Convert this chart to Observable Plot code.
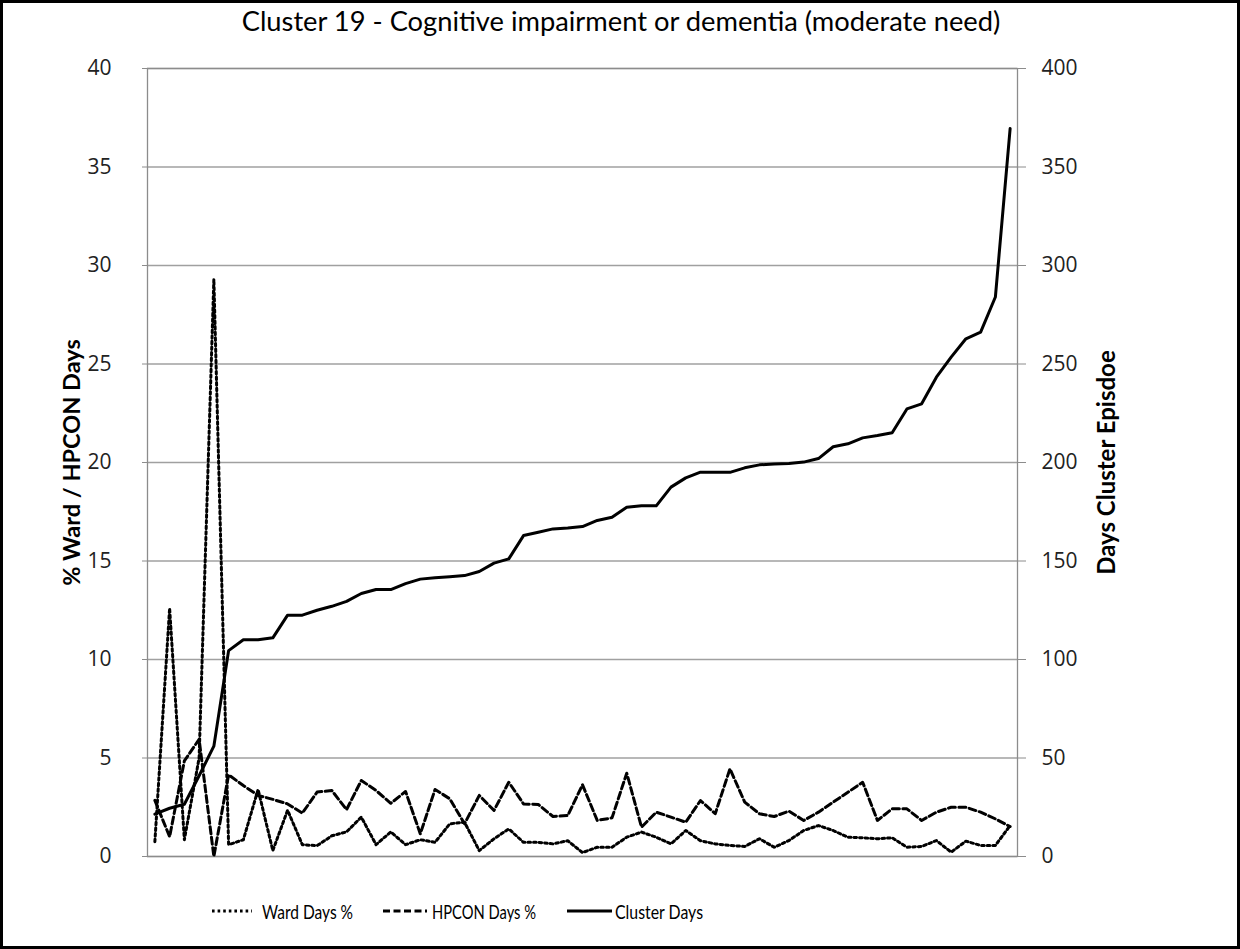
<!DOCTYPE html>
<html>
<head>
<meta charset="utf-8">
<script src="https://cdn.jsdelivr.net/npm/d3@7"></script>
<script src="https://cdn.jsdelivr.net/npm/@observablehq/plot@0.6"></script>
<style>
  html, body { margin: 0; padding: 0; background: #fff; }
  #page { position: relative; width: 1240px; height: 949px; overflow: hidden; background: #fff; }
  #border { position: absolute; left: 0; top: 0; width: 1240px; height: 949px; box-sizing: border-box; border: 3px solid #000; pointer-events: none; }
  #title { height: 46px; line-height: 42px; text-align: center; padding-left: 2px; font-family: Lato, "Open Sans", sans-serif; font-size: 27.3px; color: #000; white-space: nowrap; }
  #chart svg { display: block; }
  #legend { position: relative; height: 61px; font-family: Lato, "Open Sans", sans-serif; font-size: 20px; color: #000; }
  #legend .sample { position: absolute; top: 21px; height: 4px; overflow: visible; }
  #legend .lab { position: absolute; top: 11px; line-height: 24px; white-space: nowrap; transform-origin: 0 50%; }
</style>
</head>
<body>
<div id="page">
  <div id="title"></div>
  <div id="chart"></div>
  <div id="legend"></div>
  <div id="border"></div>
</div>
<script>
// ---- data ----
const chartTitle = "Cluster 19 - Cognitive impairment or dementia (moderate need)";
const leftAxisTitle = "% Ward / HPCON Days";
const rightAxisTitle = "Days Cluster Episdoe";
const seriesNames = ["Ward Days %", "HPCON Days %", "Cluster Days"];

// episodes in rank order (x categories)
const episodes = d3.range(1, 60);

// Ward Days % (dotted)
const wardDays = [0.75, 12.6, 0.85, 5.0, 29.3, 0.6, 0.85, 3.4, 0.3, 2.35,
  0.6, 0.55, 1.05, 1.25, 2.0, 0.6, 1.25, 0.6, 0.85, 0.72,
  1.66, 1.74, 0.3, 0.9, 1.4, 0.72, 0.72, 0.64, 0.8, 0.2,
  0.47, 0.47, 0.98, 1.24, 0.98, 0.64, 1.32, 0.8, 0.64, 0.56,
  0.51, 0.9, 0.47, 0.81, 1.32, 1.57, 1.32, 0.98, 0.95, 0.9,
  0.95, 0.47, 0.51, 0.81, 0.22, 0.78, 0.56, 0.56, 1.57];

// HPCON Days % (dashed)
const hpconDays = [2.85, 1.0, 4.85, 5.95, 0.0, 4.15, 3.6, 3.1, 2.9, 2.67,
  2.2, 3.27, 3.35, 2.38, 3.86, 3.35, 2.7, 3.3, 1.15, 3.4,
  2.93, 1.66, 3.1, 2.34, 3.77, 2.67, 2.64, 2.03, 2.08, 3.64,
  1.83, 1.96, 4.23, 1.49, 2.25, 2.0, 1.74, 2.84, 2.17, 4.45,
  2.76, 2.17, 2.03, 2.3, 1.83, 2.25, 2.76, 3.26, 3.77, 1.83,
  2.42, 2.42, 1.83, 2.25, 2.5, 2.5, 2.25, 1.91, 1.52];

// Cluster Days (solid, right axis)
const clusterDays = [21.5, 24.5, 26.5, 41, 56, 104.5, 110, 110, 111, 122.5,
  122.5, 125, 127, 129.5, 133.5, 135.5, 135.5, 138.5, 140.8, 141.5,
  142, 142.6, 144.7, 148.9, 151.1, 162.9, 164.6, 166.3, 166.8, 167.5,
  170.6, 172.2, 177.3, 178, 178, 187.5, 192.2, 195.1, 195, 195,
  197.3, 198.8, 199.3, 199.5, 200.2, 202, 208, 209.5, 212.5, 213.7,
  215.1, 227.2, 229.8, 243.3, 253.5, 262.8, 266.2, 284, 369.5];

const leftTicks = [0, 5, 10, 15, 20, 25, 30, 35, 40];
const rightTicks = [0, 50, 100, 150, 200, 250, 300, 350, 400];
const rightToLeft = 10; // right axis value / 10 = left axis value

// ---- build ----
const rows = episodes.map((e, i) => ({e, ward: wardDays[i], hpcon: hpconDays[i], days: clusterDays[i]}));
const dashStyles = ["2.6,3", "7,3.5", null];

document.getElementById("title").textContent = chartTitle;

const plot = Plot.plot({
  width: 1240,
  height: 842,
  marginTop: 22,
  marginBottom: 32,
  marginLeft: 147,
  marginRight: 223,
  style: {fontFamily: "'Open Sans', sans-serif", fontSize: "21px", color: "#222", background: "#fff", overflow: "visible"},
  x: {domain: [0.5, 59.5], axis: null},
  y: {domain: [0, 40], axis: null},
  marks: [
    Plot.gridY(leftTicks, {stroke: "#a0a0a0", strokeOpacity: 1, strokeWidth: 1.3}),
    Plot.frame({stroke: "#8c8c8c", strokeWidth: 1.3}),
    Plot.axisY(leftTicks, {anchor: "left", tickSize: 5, tickPadding: 31, stroke: "#8c8c8c", fill: "#222", label: null}),
    Plot.axisY(rightTicks.map(d => d / rightToLeft), {anchor: "right", tickSize: 8, tickPadding: 16, stroke: "#8c8c8c", fill: "#222", label: null, tickFormat: d => String(Math.round(d * rightToLeft))}),
    Plot.line(rows, {x: "e", y: "ward", stroke: "#000", strokeWidth: 3, strokeDasharray: dashStyles[0], strokeLinejoin: "round"}),
    Plot.line(rows, {x: "e", y: "hpcon", stroke: "#000", strokeWidth: 3, strokeDasharray: dashStyles[1], strokeLinejoin: "round"}),
    Plot.line(rows, {x: "e", y: d => d.days / rightToLeft, stroke: "#000", strokeWidth: 3, strokeLinejoin: "round"}),
    Plot.text([leftAxisTitle], {text: d => d, frameAnchor: "left", dx: -75, rotate: -90, textAnchor: "middle", fontWeight: "bold", fontSize: 23.5, fontFamily: "Lato, sans-serif", fill: "#000"}),
    Plot.text([rightAxisTitle], {text: d => d, frameAnchor: "right", dx: 90, rotate: -90, textAnchor: "middle", fontWeight: "bold", fontSize: 24, fontFamily: "Lato, sans-serif", fill: "#000"})
  ]
});
document.getElementById("chart").appendChild(plot);

// legend
const legend = document.getElementById("legend");
const legendPos = [{s: 212, w: 40, t: 262, tw: 91}, {s: 383, w: 44, t: 432, tw: 104}, {s: 567, w: 45, t: 615, tw: 88}];
seriesNames.forEach((name, i) => {
  const p = legendPos[i];
  const svg = d3.create("svg").attr("class", "sample").attr("width", p.w).attr("height", 4).style("left", p.s + "px");
  svg.append("line").attr("x1", 0).attr("x2", p.w).attr("y1", 2).attr("y2", 2)
    .attr("stroke", "#000").attr("stroke-width", 3)
    .attr("stroke-dasharray", dashStyles[i]);
  legend.appendChild(svg.node());
  const lab = document.createElement("span");
  lab.className = "lab";
  lab.style.left = p.t + "px";
  lab.textContent = name;
  legend.appendChild(lab);
  const w = lab.getBoundingClientRect().width;
  if (w > 0) lab.style.transform = `scaleX(${(p.tw / w).toFixed(3)})`;
});
</script>
</body>
</html>
